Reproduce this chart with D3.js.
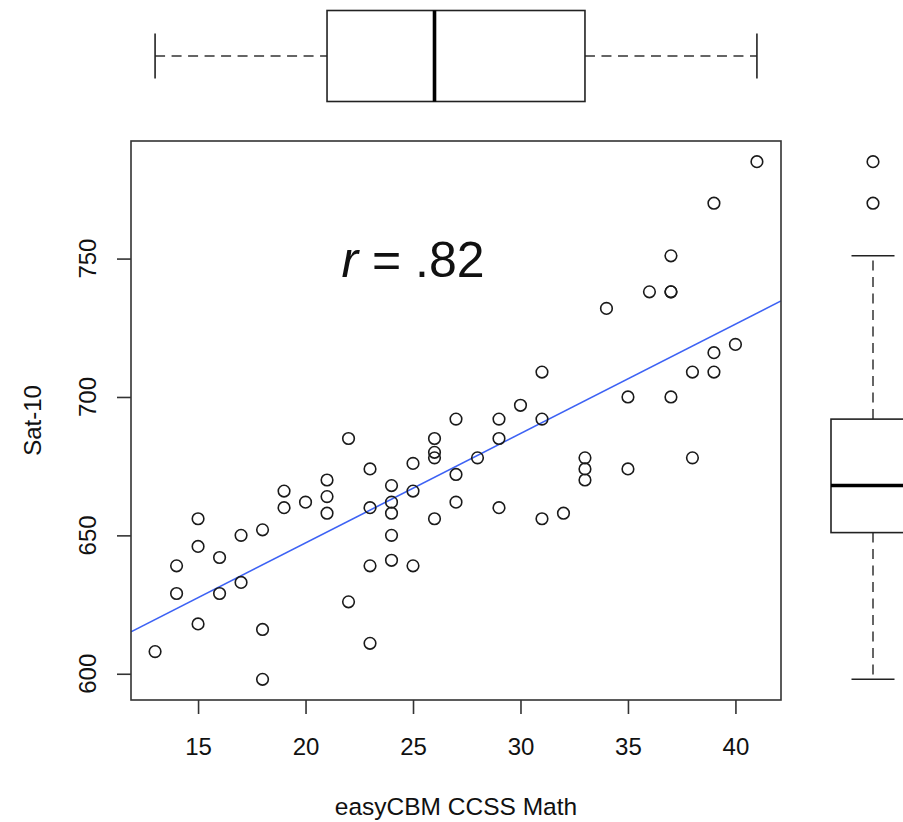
<!DOCTYPE html>
<html><head><meta charset="utf-8">
<script src="https://cdn.jsdelivr.net/npm/d3@7"></script>
<style>
body{margin:0;background:#fff}
text{font-family:"Liberation Sans", Arial, Helvetica, sans-serif;fill:#111}
</style>
</head><body>
<svg id="c" width="903" height="822"></svg>
<script>
// ---- data ----
const easyCBM = [13, 14,14, 15,15,15, 16,16, 17,17, 18,18,18, 19,19, 20, 21,21,21, 22,22,
  23,23,23,23, 24,24,24,24,24, 25,25,25, 26,26,26,26, 27,27,27, 28, 29,29,29, 30,
  31,31,31, 32, 33,33,33, 34, 35,35, 36, 37,37,37,37, 38,38, 39,39,39, 40, 41];
const sat10 = [608, 639,629, 656,646,618, 642,629, 650,633, 652,616,598, 666,660, 662, 670,664,658, 685,626,
  674,660,639,611, 668,662,658,650,641, 676,666,639, 685,680,678,656, 692,672,662, 678, 692,685,660, 697,
  709,692,656, 658, 678,674,670, 732, 700,674, 738, 751,738,738,700, 709,678, 770,716,709, 719, 785];
const xTicks = [15, 20, 25, 30, 35, 40];
const yTicks = [600, 650, 700, 750];
const xTitle = "easyCBM CCSS Math";
const yTitle = "Sat-10";
const rText = ".82";
const rAt = [25, 750];

// ---- layout ----
const L = 131, R = 781, T = 141, B = 700;
const svg = d3.select("#c");

function ext(a){ const [lo,hi] = d3.extent(a); const p = (hi-lo)*0.04; return [lo-p, hi+p]; }
const x = d3.scaleLinear().domain(ext(easyCBM)).range([L, R]);
const y = d3.scaleLinear().domain(ext(sat10)).range([B, T]);

// fivenum (Tukey hinges) like R boxplot
function fivenum(a){
  const s = a.slice().sort((p,q)=>p-q), n = s.length;
  const n4 = Math.floor((n+3)/2)/2;
  const d = [1, n4, (n+1)/2, n+1-n4, n];
  return d.map(v => 0.5*(s[Math.floor(v)-1] + s[Math.ceil(v)-1]));
}
function boxStats(a){
  const f = fivenum(a), iqr = f[3]-f[1];
  const lo = f[1]-1.5*iqr, hi = f[3]+1.5*iqr;
  const inside = a.filter(v => v>=lo && v<=hi);
  return {q1:f[1], med:f[2], q3:f[3], wlo:d3.min(inside), whi:d3.max(inside),
          out:a.filter(v => v<lo || v>hi)};
}

// ---- clip ----
svg.append("clipPath").attr("id","plotclip").append("rect")
  .attr("x",L).attr("y",T).attr("width",R-L).attr("height",B-T);

// ---- regression line ----
const mx = d3.mean(easyCBM), my = d3.mean(sat10);
let sxy=0, sxx=0;
easyCBM.forEach((v,i)=>{ sxy += (v-mx)*(sat10[i]-my); sxx += (v-mx)*(v-mx); });
const slope = sxy/sxx, icpt = my - slope*mx;
const xd = x.domain();
svg.append("line").attr("clip-path","url(#plotclip)")
  .attr("x1", x(xd[0])).attr("y1", y(icpt+slope*xd[0]))
  .attr("x2", x(xd[1])).attr("y2", y(icpt+slope*xd[1]))
  .attr("stroke","#3d62f4").attr("stroke-width",1.6);

// ---- points ----
svg.append("g").selectAll("circle").data(easyCBM).join("circle")
  .attr("cx", d => x(d)).attr("cy", (d,i) => y(sat10[i])).attr("r", 5.8)
  .attr("fill","none").attr("stroke","#1a1a1a").attr("stroke-width",1.6);

// ---- frame ----
svg.append("rect").attr("x",L).attr("y",T).attr("width",R-L).attr("height",B-T)
  .attr("fill","none").attr("stroke","#333").attr("stroke-width",1.6);

// ---- axes ----
const xAxis = d3.axisBottom(x).tickValues(xTicks).tickSize(14).tickPadding(26).tickFormat(d3.format("d"));
const gx = svg.append("g").attr("transform",`translate(0,${B})`).call(xAxis);
gx.select(".domain").remove();
gx.selectAll("line").attr("stroke","#333").attr("stroke-width",1.6);
gx.selectAll("text").attr("font-size",24).attr("fill","#111").attr("dy",null).attr("y",55)
  .style("font-family",'"Liberation Sans", Arial, sans-serif');

const yAxis = d3.axisLeft(y).tickValues(yTicks).tickSize(14).tickFormat(d3.format("d"));
const gy = svg.append("g").attr("transform",`translate(${L},0)`).call(yAxis);
gy.select(".domain").remove();
gy.selectAll("line").attr("stroke","#333").attr("stroke-width",1.6);
gy.selectAll("text").remove();
svg.append("g").selectAll("text").data(yTicks).join("text")
  .attr("transform", d => `translate(96,${y(d)}) rotate(-90)`)
  .attr("text-anchor","middle").attr("font-size",24).text(d => d);

// ---- titles ----
svg.append("text").attr("x",(L+R)/2).attr("y",815).attr("text-anchor","middle")
  .attr("font-size",24.5).text(xTitle);
svg.append("text").attr("transform",`translate(41,${(T+B)/2}) rotate(-90)`)
  .attr("text-anchor","middle").attr("font-size",24).text(yTitle);

// ---- r annotation ----
const rt = svg.append("text").attr("x", x(rAt[0])).attr("y", y(rAt[1]) + 18)
  .attr("text-anchor","middle").attr("font-size",50);
rt.append("tspan").attr("font-style","italic").text("r");
rt.append("tspan").text(" = " + rText);

// ---- top boxplot (x variable) ----
const bx = boxStats(easyCBM);
const cy = 56, hh = 45.5, cap = 22.5;
const gt = svg.append("g");
gt.append("line").attr("x1",x(bx.wlo)).attr("x2",x(bx.q1)).attr("y1",cy).attr("y2",cy)
  .attr("stroke","#333").attr("stroke-width",1.5).attr("stroke-dasharray","10,6.5");
gt.append("line").attr("x1",x(bx.q3)).attr("x2",x(bx.whi)).attr("y1",cy).attr("y2",cy)
  .attr("stroke","#333").attr("stroke-width",1.5).attr("stroke-dasharray","10,6.5");
[bx.wlo, bx.whi].forEach(v => gt.append("line").attr("x1",x(v)).attr("x2",x(v))
  .attr("y1",cy-cap).attr("y2",cy+cap).attr("stroke","#222").attr("stroke-width",1.6));
gt.append("rect").attr("x",x(bx.q1)).attr("y",cy-hh).attr("width",x(bx.q3)-x(bx.q1)).attr("height",2*hh)
  .attr("fill","#fff").attr("stroke","#222").attr("stroke-width",1.6);
gt.append("line").attr("x1",x(bx.med)).attr("x2",x(bx.med)).attr("y1",cy-hh).attr("y2",cy+hh)
  .attr("stroke","#000").attr("stroke-width",3.6);
gt.selectAll("circle.o").data(bx.out).join("circle").attr("cx",d=>x(d)).attr("cy",cy).attr("r",5.8)
  .attr("fill","none").attr("stroke","#1a1a1a").attr("stroke-width",1.6);

// ---- right boxplot (y variable) ----
const by = boxStats(sat10);
const cx = 873, hw = 42, capw = 21.5;
const gr = svg.append("g");
gr.append("line").attr("x1",cx).attr("x2",cx).attr("y1",y(by.q3)).attr("y2",y(by.whi))
  .attr("stroke","#333").attr("stroke-width",1.5).attr("stroke-dasharray","10,6.5");
gr.append("line").attr("x1",cx).attr("x2",cx).attr("y1",y(by.q1)).attr("y2",y(by.wlo))
  .attr("stroke","#333").attr("stroke-width",1.5).attr("stroke-dasharray","10,6.5");
[by.wlo, by.whi].forEach(v => gr.append("line").attr("y1",y(v)).attr("y2",y(v))
  .attr("x1",cx-capw).attr("x2",cx+capw).attr("stroke","#222").attr("stroke-width",1.6));
gr.append("rect").attr("x",cx-hw).attr("y",y(by.q3)).attr("width",2*hw).attr("height",y(by.q1)-y(by.q3))
  .attr("fill","#fff").attr("stroke","#222").attr("stroke-width",1.6);
gr.append("line").attr("y1",y(by.med)).attr("y2",y(by.med)).attr("x1",cx-hw).attr("x2",cx+hw)
  .attr("stroke","#000").attr("stroke-width",3.6);
gr.selectAll("circle.o").data(by.out).join("circle").attr("cx",cx).attr("cy",d=>y(d)).attr("r",5.8)
  .attr("fill","none").attr("stroke","#1a1a1a").attr("stroke-width",1.6);
</script>
</body></html>
